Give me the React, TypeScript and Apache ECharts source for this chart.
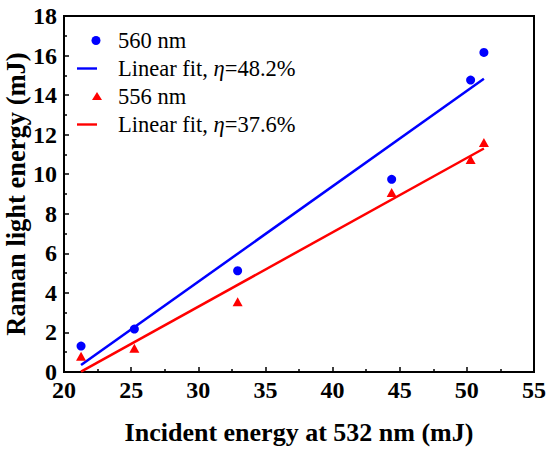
import React, { useEffect, useRef } from "react";
import * as echarts from "echarts";

const incidentEnergy = [21.27, 25.24, 32.93, 44.4, 50.28, 51.27];
const raman560 = [1.31, 2.17, 5.12, 9.74, 14.76, 16.16];
const raman556 = [0.8, 1.2, 3.55, 9.08, 10.75, 11.6];
const fit560X = [21.27, 51.27];
const fit560Y = [0.35, 14.83];
const fit556X = [21.27, 51.27];
const fit556Y = [0.02, 11.3];
const seriesNames = ["560 nm", "Linear fit, η=48.2%", "556 nm", "Linear fit, η=37.6%"];

const FONT = "Liberation Serif";

export default function App() {
  const ref = useRef<HTMLDivElement>(null);
  useEffect(() => {
    document.body.style.margin = "0";
    const chart = echarts.init(ref.current!, null, { renderer: "svg" });
    const pair = (xs: number[], ys: number[]) => xs.map((x, i) => [x, ys[i]]);
    const box = "M0,0 M36,14 ";
    const circleIcon = "path://" + box + "M23.5,7 A4.5,4.5 0 1,1 14.5,7 A4.5,4.5 0 1,1 23.5,7 Z";
    const lineIcon = "path://" + box + "M0,5.8 L20,5.8 L20,8.2 L0,8.2 Z";
    const triIcon = "path://" + box + "M20,2.5 L25,10.5 L15,10.5 Z";
    chart.setOption({
      animation: false,
      textStyle: { fontFamily: FONT, color: "#000" },
      grid: {
        left: 64, right: 16, top: 16, bottom: 79,
        outerBoundsMode: "none",
        containLabel: false,
        show: true, borderColor: "#000", borderWidth: 2,
      },
      legend: {
        orient: "vertical",
        left: 77,
        top: 29,
        padding: 0,
        itemWidth: 36,
        itemHeight: 14,
        itemGap: 5,
        itemStyle: { borderWidth: 0 },
        textStyle: {
          fontFamily: FONT,
          fontSize: 22.5,
          color: "#000",
          rich: {
            n: { fontFamily: FONT, fontSize: 22.5, color: "#000" },
            i: { fontFamily: FONT, fontSize: 22.5, fontStyle: "italic", color: "#000" },
          },
        },
        formatter: (name: string) => {
          const k = name.indexOf("η");
          if (k < 0) return "{n|" + name + "}";
          return "{n|" + name.slice(0, k) + "}{i|η}{n|" + name.slice(k + 1) + "}";
        },
        data: [
          { name: seriesNames[0], icon: circleIcon },
          { name: seriesNames[1], icon: lineIcon },
          { name: seriesNames[2], icon: triIcon },
          { name: seriesNames[3], icon: lineIcon },
        ],
      },
      xAxis: {
        type: "value",
        min: 20,
        max: 55,
        interval: 5,
        name: "Incident energy at 532 nm (mJ)",
        nameLocation: "middle",
        nameGap: 47,
        nameMoveOverlap: false,
        nameTextStyle: { fontFamily: FONT, fontSize: 26, fontWeight: "bold", color: "#000" },
        axisLine: { lineStyle: { color: "#000", width: 2 } },
        axisTick: { inside: true, length: 5, lineStyle: { color: "#000", width: 1.5 } },
        minorTick: { show: true, splitNumber: 2, length: 3, lineStyle: { color: "#000", width: 1.5 } },
        axisLabel: { fontFamily: FONT, fontSize: 24, fontWeight: "bold", color: "#000", margin: 10, lineHeight: 16 },
        splitLine: { show: false },
      },
      yAxis: {
        type: "value",
        min: 0,
        max: 18,
        interval: 2,
        name: "Raman light energy (mJ)",
        nameLocation: "middle",
        nameGap: 35,
        nameMoveOverlap: false,
        nameTextStyle: {
          fontFamily: FONT, fontSize: 26.5, fontWeight: "bold", color: "#000",
        },
        axisLine: { lineStyle: { color: "#000", width: 2 } },
        axisTick: { inside: true, length: 5, lineStyle: { color: "#000", width: 1.5 } },
        minorTick: { show: true, splitNumber: 2, length: 3, lineStyle: { color: "#000", width: 1.5 } },
        axisLabel: { fontFamily: FONT, fontSize: 24, fontWeight: "bold", color: "#000", margin: 7, lineHeight: 16 },
        splitLine: { show: false },
      },
      series: [
        {
          name: seriesNames[0],
          type: "scatter",
          symbol: "circle",
          symbolSize: 9,
          itemStyle: { color: "#0000FF", opacity: 1 },
          data: pair(incidentEnergy, raman560),
          z: 3,
        },
        {
          name: seriesNames[1],
          type: "line",
          showSymbol: false,
          lineStyle: { color: "#0000FF", width: 2.5 },
          itemStyle: { color: "#0000FF" },
          data: pair(fit560X, fit560Y),
          z: 2,
        },
        {
          name: seriesNames[2],
          type: "scatter",
          symbol: "triangle",
          symbolSize: [10, 9],
          itemStyle: { color: "#FF0000", opacity: 1 },
          data: pair(incidentEnergy, raman556),
          z: 3,
        },
        {
          name: seriesNames[3],
          type: "line",
          showSymbol: false,
          lineStyle: { color: "#FF0000", width: 2.5 },
          itemStyle: { color: "#FF0000" },
          data: pair(fit556X, fit556Y),
          z: 2,
        },
      ],
    });
    return () => chart.dispose();
  }, []);
  return <div ref={ref} style={{ width: 550, height: 451 }} />;
}
